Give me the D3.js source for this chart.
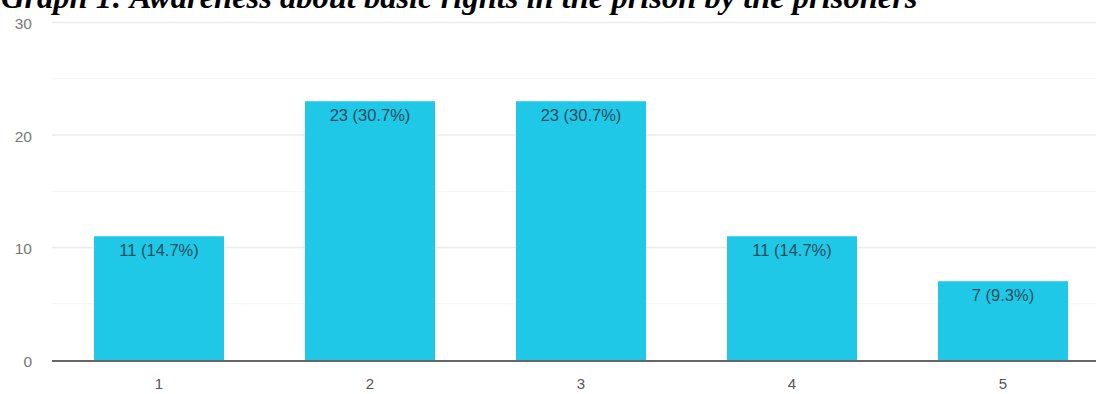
<!DOCTYPE html>
<html><head><meta charset="utf-8">
<script src="https://cdn.jsdelivr.net/npm/d3@7"></script>
<style>body{margin:0;background:#fff;}svg{display:block;}</style>
</head><body>
<svg id="c" width="1096" height="394"></svg>
<script>
const categories = ["1","2","3","4","5"];
const counts = [11, 23, 23, 11, 7];
const labels = ["11 (14.7%)","23 (30.7%)","23 (30.7%)","11 (14.7%)","7 (9.3%)"];
const yTicks = [0, 10, 20, 30];
const yMinor = [5, 15, 25];
const title = "Graph 1: Awareness about basic rights in the prison by the prisoners";

const svg = d3.select("#c");
const W = 1096, H = 394;
const x = d3.scaleBand().domain(categories).range([53.5, 1108.5]).paddingInner(0.384).paddingOuter(0.192);
const y = d3.scaleLinear().domain([0, 30]).range([360, 22.5]);
const font = "'Liberation Sans', Arial, sans-serif";

// minor grid
svg.append("g").selectAll("line").data(yMinor).join("line")
  .attr("x1", 52).attr("x2", W).attr("y1", d => y(d)).attr("y2", d => y(d))
  .attr("stroke", "#f5f5f5").attr("stroke-width", 1.2);
// major grid
svg.append("g").selectAll("line").data(yTicks.filter(d => d > 0)).join("line")
  .attr("x1", 52).attr("x2", W).attr("y1", d => y(d)).attr("y2", d => y(d))
  .attr("stroke", "#ebebeb").attr("stroke-width", 1.6);

// y labels
svg.append("g").selectAll("text").data(yTicks).join("text")
  .attr("x", 32).attr("y", d => y(d) + 6.5)
  .attr("text-anchor", "end")
  .attr("font-family", font).attr("font-size", 15.5)
  .attr("fill", "#777").text(d => d);

// bars
svg.append("g").selectAll("rect").data(counts).join("rect")
  .attr("x", (d, i) => x(categories[i]))
  .attr("width", x.bandwidth())
  .attr("y", d => y(d))
  .attr("height", d => y(0) - y(d))
  .attr("fill", "#1ec8e6");

// bar labels
svg.append("g").selectAll("text").data(counts).join("text")
  .attr("x", (d, i) => x(categories[i]) + x.bandwidth() / 2)
  .attr("y", d => y(d) + 20)
  .attr("text-anchor", "middle")
  .attr("font-family", font).attr("font-size", 16.5)
  .attr("fill", "#2a4d60").text((d, i) => labels[i]);

// baseline
svg.append("line").attr("x1", 52).attr("x2", W).attr("y1", y(0) + 1).attr("y2", y(0) + 1)
  .attr("stroke", "#666").attr("stroke-width", 2);

// x labels
svg.append("g").selectAll("text").data(categories).join("text")
  .attr("x", d => x(d) + x.bandwidth() / 2)
  .attr("y", 389)
  .attr("text-anchor", "middle")
  .attr("font-family", font).attr("font-size", 15)
  .attr("fill", "#555").text(d => d);

// title
svg.append("text").attr("x", 1).attr("y", 8)
  .attr("font-family", "'Liberation Serif', 'Times New Roman', serif")
  .attr("font-size", 32.5).attr("font-weight", "bold").attr("font-style", "italic")
  .attr("fill", "#000").text(title);
</script>
</body></html>
